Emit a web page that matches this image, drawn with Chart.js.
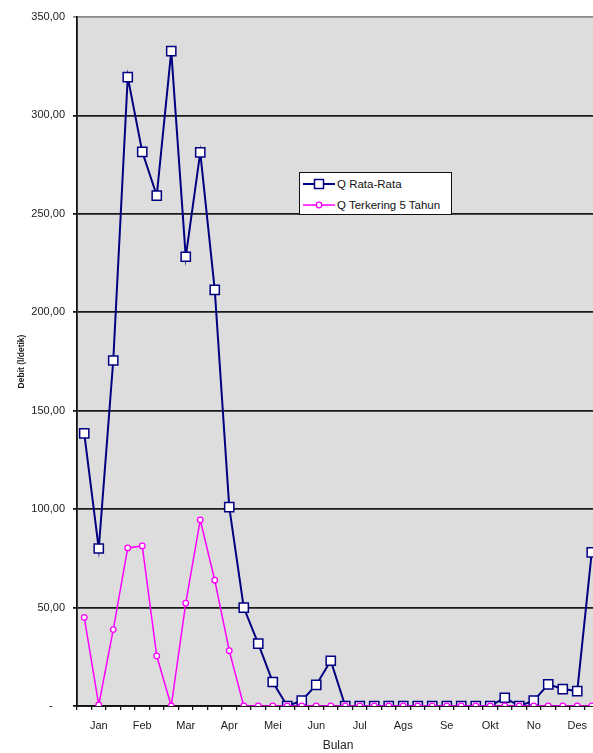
<!DOCTYPE html>
<html>
<head>
<meta charset="utf-8">
<script src="https://cdn.jsdelivr.net/npm/chart.js@4.4.1/dist/chart.umd.min.js"></script>
<style>
  html, body { margin: 0; padding: 0; overflow: hidden; background: #fff; }
  #wrap { position: relative; width: 593px; height: 753px; overflow: hidden; }
  #chart { position: absolute; left: 0; top: 0; }
  #legend {
    position: absolute; left: 299px; top: 172px; width: 151px; height: 41px;
    background: #fff; border: 1px solid #111;
    font-family: "Liberation Sans", Arial, sans-serif; font-size: 11.5px; color: #111;
  }
  #legend .row { position: absolute; left: 3px; height: 14px; display: flex; align-items: center; }
  #legend svg { margin-right: 2px; }
</style>
</head>
<body>
<div id="wrap">
  <canvas id="chart" width="620" height="753"></canvas>
  <div id="legend">
    <div class="row" style="top:4px">
      <svg width="32" height="14"><line x1="0" y1="7" x2="32" y2="7" stroke="#000080" stroke-width="2"/><rect x="11.5" y="2.5" width="9" height="9" fill="#fff" stroke="#000080" stroke-width="1.5"/></svg>
      <span>Q Rata-Rata</span>
    </div>
    <div class="row" style="top:25px">
      <svg width="32" height="14"><line x1="0" y1="7" x2="32" y2="7" stroke="#ff00ff" stroke-width="1.5"/><circle cx="16" cy="7" r="2.8" fill="#fff" stroke="#ff00ff" stroke-width="1.3"/></svg>
      <span>Q Terkering 5 Tahun</span>
    </div>
  </div>
</div>
<script>
// Month names, one label per 3 points (shown on the middle point)
const months = ['Jan', 'Feb', 'Mar', 'Apr', 'Mei', 'Jun', 'Jul', 'Ags', 'Se', 'Okt', 'No', 'Des'];

// Q Rata-Rata (l/detik), 36 periods
const qRataRata = [
  138.5, 80, 175.5, 319.5, 281.5, 259.3, 332.7, 228.2, 281.2, 211.4, 101, 50,
  31.7, 12.2, 0, 2.7, 10.7, 23, 0, 0, 0, 0, 0, 0,
  0, 0, 0, 0, 0, 4.2, 0, 2.7, 11, 8.6, 7.6, 78
];

// Q Terkering 5 Tahun (l/detik), 36 periods
const qTerkering = [
  45, 0.5, 38.8, 80.3, 81.3, 25.4, 0, 52.2, 94.5, 63.9, 28.1, 0,
  0, 0, 0, 0, 0, 0, 0, 0, 0, 0, 0, 0,
  0, 0, 0, 0, 0, 0, 0, 0, 0, 0, 0, 0
];

const yTicks = [0, 50, 100, 150, 200, 250, 300, 350];

const labels = [];
months.forEach(m => { labels.push(''); labels.push(m); labels.push(''); });

// grey plot area like the Excel chart
const plotBg = {
  id: 'plotBg',
  beforeDraw(chart) {
    const a = chart.chartArea;
    const c = chart.ctx;
    c.save();
    c.fillStyle = '#dddddd';
    c.fillRect(a.left, a.top, a.right - a.left, a.bottom - a.top);
    c.restore();
  }
};

const font = { family: '"Liberation Sans", Arial, sans-serif', size: 11 };

const ctx = document.getElementById('chart').getContext('2d');
new Chart(ctx, {
  type: 'line',
  data: {
    labels: labels,
    datasets: [{
      label: 'Q Rata-Rata',
      data: qRataRata,
      borderColor: '#000080',
      borderWidth: 2,
      pointStyle: 'rect',
      pointRadius: 6.5,
      pointBorderWidth: 1.5,
      pointBackgroundColor: '#ffffff',
      pointBorderColor: '#000080',
      tension: 0,
      order: 2
    }, {
      label: 'Q Terkering 5 Tahun',
      data: qTerkering,
      borderColor: '#ff00ff',
      borderWidth: 1.5,
      pointStyle: 'circle',
      pointRadius: 2.8,
      pointBorderWidth: 1.3,
      pointBackgroundColor: '#ffffff',
      pointBorderColor: '#ff00ff',
      tension: 0,
      order: 1
    }]
  },
  options: {
    responsive: false,
    animation: false,
    layout: { padding: { top: 17, right: 21, left: 0, bottom: 0 } },
    plugins: { legend: { display: false }, tooltip: { enabled: false } },
    scales: {
      x: {
        offset: true,
        grid: { offset: true, drawOnChartArea: false, drawTicks: true, tickLength: 4, color: '#111', lineWidth: 1.3 },
        border: { color: '#111', width: 1.8 },
        ticks: {
          autoSkip: false, maxRotation: 0, padding: 9, color: '#222', font: font,
          callback: function (v, i) { return labels[i]; }
        },
        title: { display: true, text: 'Bulan', color: '#222', font: { family: font.family, size: 12 }, padding: { top: 0, bottom: 0 } },
        afterFit: function (s) { s.height = 47; }
      },
      y: {
        min: 0,
        max: 350,
        afterBuildTicks: function (s) { s.ticks = yTicks.map(v => ({ value: v })); },
        grid: {
          tickLength: 4,
          color: c => (c.tick && c.tick.value === 350 ? '#8a8a8a' : '#1a1a1a'),
          lineWidth: 1.8
        },
        border: { color: '#111', width: 1.8 },
        ticks: {
          padding: 8, color: '#222', font: font,
          callback: v => (v === 0 ? '-    ' : v.toFixed(2).replace('.', ','))
        },
        title: {
          display: true, text: 'Debit (l/detik)', color: '#222',
          font: { family: font.family, size: 8.5, weight: 'bold' }, padding: { top: 17, bottom: 0 }
        },
        afterFit: function (s) { s.width = 77; }
      }
    }
  },
  plugins: [plotBg]
});
</script>
</body>
</html>
